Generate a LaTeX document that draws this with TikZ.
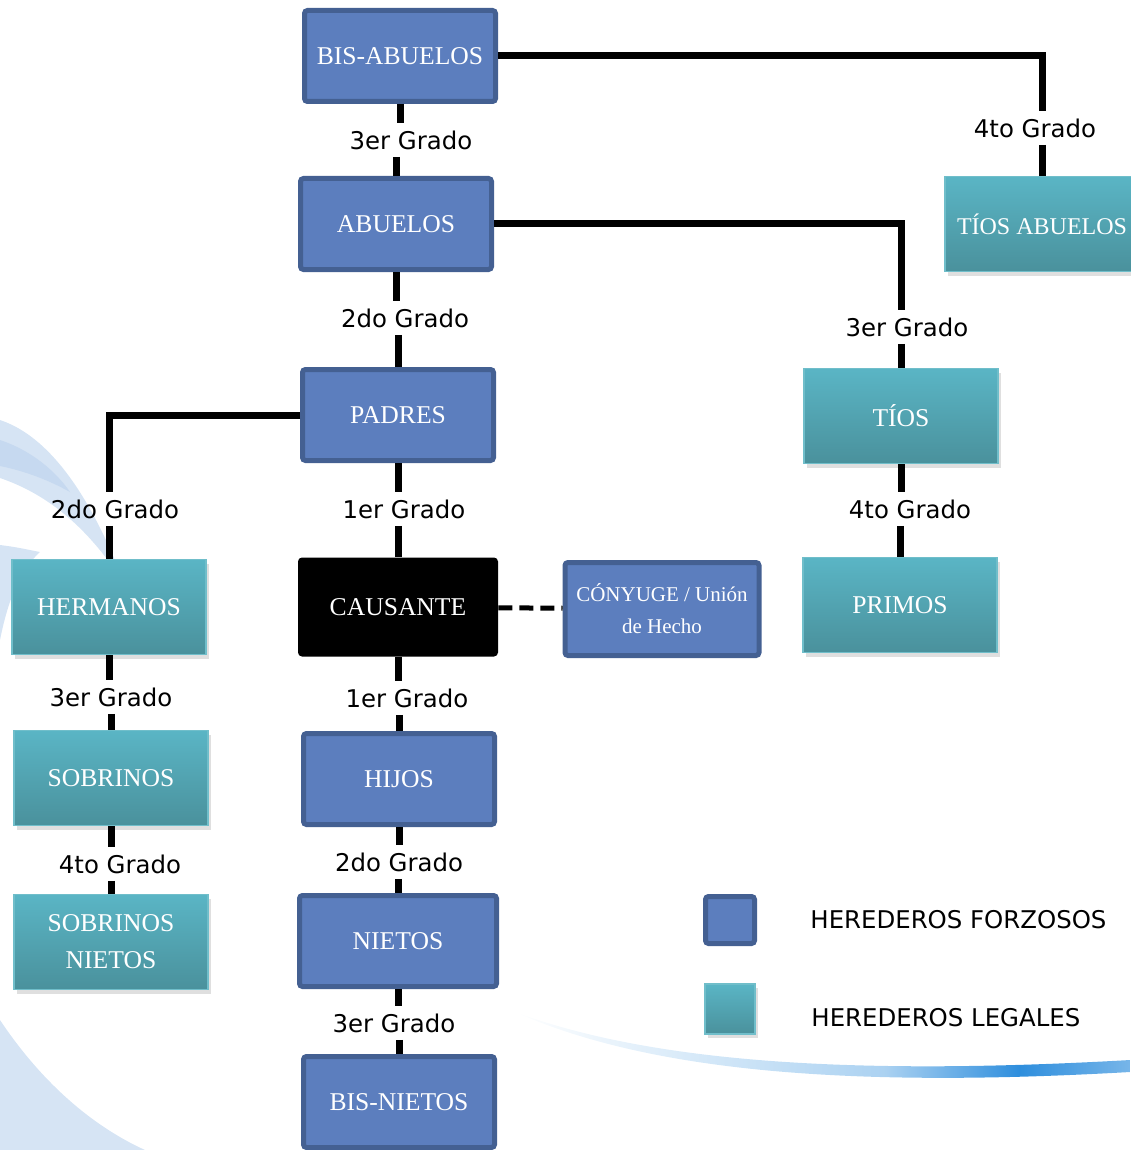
\documentclass[tikz,border=0pt]{standalone}
\usepackage{fontspec}
\setmainfont{Liberation Serif}
\newfontfamily\gradofont{DejaVu Sans}
\usepackage{xcolor}
\usetikzlibrary{shadows,positioning}
\definecolor{azul}{RGB}{92,126,190}
\definecolor{azulborde}{RGB}{68,96,146}
\definecolor{tealarriba}{RGB}{90,181,197}
\definecolor{tealabajo}{RGB}{74,145,156}
\definecolor{tealborde}{RGB}{112,190,202}
\definecolor{fondo}{RGB}{214,228,244}
\definecolor{fondoosc}{RGB}{198,217,240}
\definecolor{arcoazul}{RGB}{46,142,221}
\pgfdeclarehorizontalshading{arcofade}{100bp}{color(0bp)=(white); color(25bp)=(white);
  color(55bp)=(arcoazul!40); color(66bp)=(arcoazul); color(75bp)=(arcoazul!65); color(100bp)=(arcoazul!65)}

\begin{document}
\begin{tikzpicture}[x=0.5pt, y=-0.5pt,
	forzoso/.style={draw=azulborde, line width=2.5pt, fill=azul, rounded corners=1.5pt, minimum width=95.5pt, minimum height=45.5pt, text=white, font=\fontsize{12.8}{18.5}\selectfont, align=center},
	legal/.style={draw=tealborde, line width=0.6pt, top color=tealarriba, bottom color=tealabajo, minimum width=97pt, minimum height=47.5pt, text=white, font=\fontsize{12.8}{18.5}\selectfont, align=center, drop shadow={opacity=0.25, shadow xshift=1.5pt, shadow yshift=-2pt}},
	grado/.style={font=\gradofont\fontsize{12.2}{14}\selectfont, inner xsep=2pt, inner ysep=3.5pt},
	link/.style={line width=3.5pt}]
	\useasboundingbox (0,0) rectangle (1130,1150);

	% fondo
	\fill[fondo] (0,420) .. controls (60,440) and (100,520) .. (125,585) .. controls (90,530) and (50,495) .. (0,478) -- cycle;
	\fill[fondoosc] (0,440) .. controls (30,450) and (55,470) .. (70,492) .. controls (45,478) and (20,470) .. (0,466) -- cycle;
	\fill[fondo] (0,545) .. controls (15,547) .. (40,552) .. controls (20,570) and (8,600) .. (0,640) -- cycle;
	\fill[fondo] (0,1020) .. controls (40,1080) and (90,1125) .. (145,1150) -- (0,1150) -- cycle;
	\shade[shading=arcofade] (515,1012) .. controls (650,1062) and (850,1076) .. (1130,1060) -- (1130,1072) .. controls (850,1088) and (650,1072) .. (515,1012) -- cycle;

	% nodos
	\node[forzoso] (Bisabuelos) at (400,56) {BIS-ABUELOS};
	\node[forzoso] (Abuelos) at (396,224) {ABUELOS};
	\node[forzoso] (Padres) at (398,415) {PADRES};
	\node[fill=black, rounded corners=2pt, minimum width=100pt, minimum height=49.5pt, text=white, font=\fontsize{12.8}{14}\selectfont] (Causante) at (398,607) {CAUSANTE};
	\node[forzoso, minimum width=97pt, minimum height=46.5pt, font=\fontsize{10.5}{16}\selectfont] (Conyuge) at (662,609) {CÓNYUGE / Unión\\de Hecho};
	\node[forzoso] (Hijos) at (399,779) {HIJOS};
	\node[forzoso, minimum width=98.5pt] (Nietos) at (398,941) {NIETOS};
	\node[forzoso] (Bisnietos) at (399,1102) {BIS-NIETOS};

	\node[legal, font=\fontsize{12}{14}\selectfont] (Tiosabuelos) at (1042,224) {TÍOS ABUELOS};
	\node[legal] (Tios) at (901,416) {TÍOS};
	\node[legal] (Primos) at (900,605) {PRIMOS};
	\node[legal] (Hermanos) at (109,607) {HERMANOS};
	\node[legal] (Sobrinos) at (111,778) {SOBRINOS};
	\node[legal] (Sobrinosnietos) at (111,942) {SOBRINOS\\NIETOS};

	% grados
	\node[grado] (g1) at (411,140) {3er Grado};
	\node[grado] (g2) at (1035,128) {4to Grado};
	\node[grado] (g3) at (405,318) {2do Grado};
	\node[grado] (g4) at (907,327) {3er Grado};
	\node[grado] (g5) at (115,509) {2do Grado};
	\node[grado] (g6) at (404,509) {1er Grado};
	\node[grado] (g7) at (910,509) {4to Grado};
	\node[grado] (g8) at (407,698) {1er Grado};
	\node[grado] (g9) at (111,697) {3er Grado};
	\node[grado] (g10) at (399,862) {2do Grado};
	\node[grado] (g11) at (120,864) {4to Grado};
	\node[grado] (g12) at (394,1023) {3er Grado};

	% conexiones
	\draw[link] (Bisabuelos.east) -| (Tiosabuelos |- g2.north) (Tiosabuelos |- g2.south) -- (Tiosabuelos);
	\draw[link] (Abuelos.east) -| (Tios |- g4.north) (Tios |- g4.south) -- (Tios);
	\draw[link] (Padres.west) -| (Hermanos |- g5.north) (Hermanos |- g5.south) -- (Hermanos);
	\draw[link] (Bisabuelos) -- (Bisabuelos |- g1.north) (Abuelos |- g1.south) -- (Abuelos);
	\draw[link] (Abuelos) -- (Abuelos |- g3.north) (Padres |- g3.south) -- (Padres);
	\draw[link] (Padres) -- (Padres |- g6.north) (Causante |- g6.south) -- (Causante);
	\draw[link] (Causante) -- (Causante |- g8.north) (Hijos |- g8.south) -- (Hijos);
	\draw[link] (Hijos) -- (Hijos |- g10.north) (Nietos |- g10.south) -- (Nietos);
	\draw[link] (Nietos) -- (Nietos |- g12.north) (Bisnietos |- g12.south) -- (Bisnietos);
	\draw[link] (Tios) -- (Tios |- g7.north) (Primos |- g7.south) -- (Primos);
	\draw[link] (Hermanos) -- (Hermanos |- g9.north) (Sobrinos |- g9.south) -- (Sobrinos);
	\draw[link] (Sobrinos) -- (Sobrinos |- g11.north) (Sobrinosnietos |- g11.south) -- (Sobrinosnietos);
	\draw[line width=2.5pt, dash pattern=on 7pt off 3.5pt] (Causante) -- (Conyuge);

	% leyenda
	\node[forzoso, minimum width=24.5pt, minimum height=23.5pt] (legforzoso) at (730,920) {};
	\node[legal, minimum width=25pt, minimum height=25pt] (leglegal) at (730,1009) {};
	\node[grado, anchor=west] (txtforzoso) at (806,920) {HEREDEROS FORZOSOS};
	\node[grado, anchor=west] (txtlegal) at (807,1018) {HEREDEROS LEGALES};
\end{tikzpicture}
\end{document}
